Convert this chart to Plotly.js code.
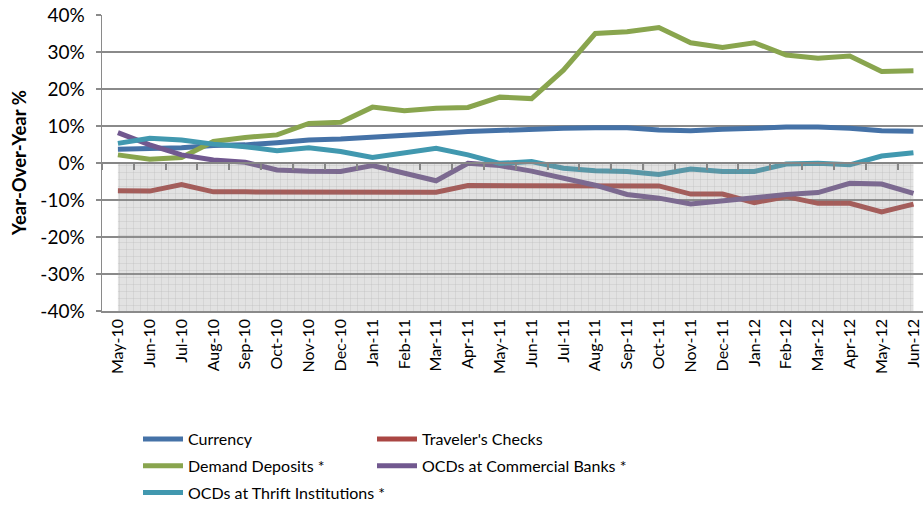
<!DOCTYPE html>
<html><head><meta charset="utf-8">
<script src="https://cdn.plot.ly/plotly-3.0.1.min.js"></script>
<style>html,body{margin:0;padding:0;background:#fff}#chart{width:923px;height:506px}</style>
</head><body><div id="chart"></div>
<script>
var months = ['May-10','Jun-10','Jul-10','Aug-10','Sep-10','Oct-10','Nov-10','Dec-10','Jan-11','Feb-11','Mar-11','Apr-11','May-11','Jun-11','Jul-11','Aug-11','Sep-11','Oct-11','Nov-11','Dec-11','Jan-12','Feb-12','Mar-12','Apr-12','May-12','Jun-12'];
var currency = [3.7,3.8,4.1,4.7,4.9,5.5,6.2,6.5,7.1,7.6,8.0,8.5,8.9,9.3,9.4,9.5,9.5,8.9,8.7,9.1,9.5,9.7,9.7,9.4,8.7,8.6];
var travelers = [-7.5,-7.6,-5.8,-7.8,-7.8,-7.8,-7.8,-7.8,-7.8,-7.9,-7.9,-6.1,-6.1,-6.2,-6.2,-6.3,-6.2,-6.2,-8.4,-8.4,-10.7,-9.1,-10.9,-10.9,-13.2,-11.1];
var demand = [2.2,1.0,1.5,5.8,6.9,7.6,10.7,11.0,15.1,14.1,14.8,15.0,17.8,17.4,25.1,35.0,35.5,36.6,32.5,31.2,32.5,29.2,28.3,28.9,24.7,24.9];
var commercial = [8.2,4.9,2.2,0.8,0.2,-1.9,-2.2,-2.3,-0.7,-2.8,-4.8,-0.1,-0.7,-2.2,-4.2,-6.0,-8.5,-9.5,-11.1,-10.4,-9.4,-8.5,-8.0,-5.5,-5.7,-8.2];
var thrift = [5.3,6.7,6.2,5.1,4.4,3.3,4.1,3.1,1.5,2.9,4.0,2.2,-0.1,0.4,-1.4,-2.1,-2.3,-3.1,-1.6,-2.3,-2.3,-0.3,-0.1,-0.5,1.9,2.8];
var shade = [-40,-40,-40,-40,-40,-40,-40,-40,-40,-40,-40,-40,-40,-40,-40,-40,-40,-40,-40,-40,-40,-40,-40,-40,-40,-40];
var yTickVals = [-40,-30,-20,-10,0,10,20,30,40];
var yTickText = ['-40%','-30%','-20%','-10%','0%','10%','20%','30%','40%'];
var yTitle = 'Year-Over-Year %';

var FONT = 'Lato, "Open Sans", sans-serif';
var GRID = '#8a8a8a';
function line(name, y, color, legend, group) {
  return {type:'scatter', mode:'lines', name:name, x:months, y:y, xaxis:'x', yaxis:'y',
    line:{color:color, width:5}, legend:legend, legendgroup:group, hoverinfo:'skip'};
}
var traces = [
  {type:'scatter', mode:'lines', x:months, y:shade, xaxis:'x2', yaxis:'y', fill:'tozeroy',
   line:{width:0, color:'rgba(0,0,0,0)'}, fillcolor:'rgba(150,150,150,0.28)',
   fillpattern:{shape:'+', size:7, solidity:0.12, bgcolor:'rgba(150,150,150,0.28)', fgcolor:'rgba(110,110,110,0.28)'},
   showlegend:false, hoverinfo:'skip'},
  line('Currency', currency, '#4572A7', 'legend', 'a'),
  line("Traveler's Checks", travelers, '#AA4643', 'legend2', 'b'),
  line('Demand Deposits *', demand, '#89A54E', 'legend', 'c'),
  line('OCDs at Commercial Banks *', commercial, '#71588F', 'legend2', 'd'),
  line('OCDs at Thrift Institutions *', thrift, '#4198AF', 'legend', 'e')
];
var xr = [-0.5, 25.3];
var layout = {
  width:923, height:506, paper_bgcolor:'#fff', plot_bgcolor:'rgba(0,0,0,0)',
  margin:{l:102, r:0, t:15, b:195, autoexpand:false},
  font:{family:FONT, color:'#000'},
  showlegend:true,
  xaxis:{type:'category', range:xr, showgrid:false, zeroline:false, showline:true, linecolor:GRID, linewidth:1.5,
    ticks:'', tickangle:-90, tickfont:{size:16, family:FONT, color:'#000'}, fixedrange:true, automargin:false},
  xaxis2:{type:'category', range:xr, overlaying:'x', anchor:'free', position:0.5, side:'bottom',
    showgrid:false, zeroline:false, showline:true, linecolor:'#868686', linewidth:2,
    ticks:'outside', ticklen:6, tickwidth:2, tickcolor:'#868686', tickson:'boundaries', showticklabels:false},
  yaxis:{range:[-40,40], tickmode:'array', tickvals:yTickVals, ticktext:yTickText, showgrid:true, gridcolor:GRID, gridwidth:1.5, automargin:false,
    zeroline:false, showline:true, linecolor:GRID, linewidth:1.5, ticks:'outside', ticklen:5, tickcolor:GRID, tickwidth:1.5,
    tickfont:{size:19, family:FONT, color:'#000'}, ticklabelstandoff:7},
  annotations:[{text:yTitle, xref:'paper', yref:'paper', x:-102/821 + 19/821, y:0.5, xanchor:'center', yanchor:'middle',
    textangle:-90, showarrow:false, font:{size:18.5, family:FONT, color:'#000', weight:'bold'}}],
  legend:{xref:'container', yref:'container', x:138/923, y:1-422/506, xanchor:'left', yanchor:'top',
    orientation:'v', traceorder:'grouped', tracegroupgap:3, itemwidth:40, bgcolor:'rgba(0,0,0,0)',
    font:{size:16, family:FONT, color:'#000'}},
  legend2:{xref:'container', yref:'container', x:372/923, y:1-422/506, xanchor:'left', yanchor:'top',
    orientation:'v', traceorder:'grouped', tracegroupgap:3, itemwidth:40, bgcolor:'rgba(0,0,0,0)',
    font:{size:16, family:FONT, color:'#000'}}
};
Plotly.newPlot('chart', traces, layout, {staticPlot:true});
</script></body></html>
